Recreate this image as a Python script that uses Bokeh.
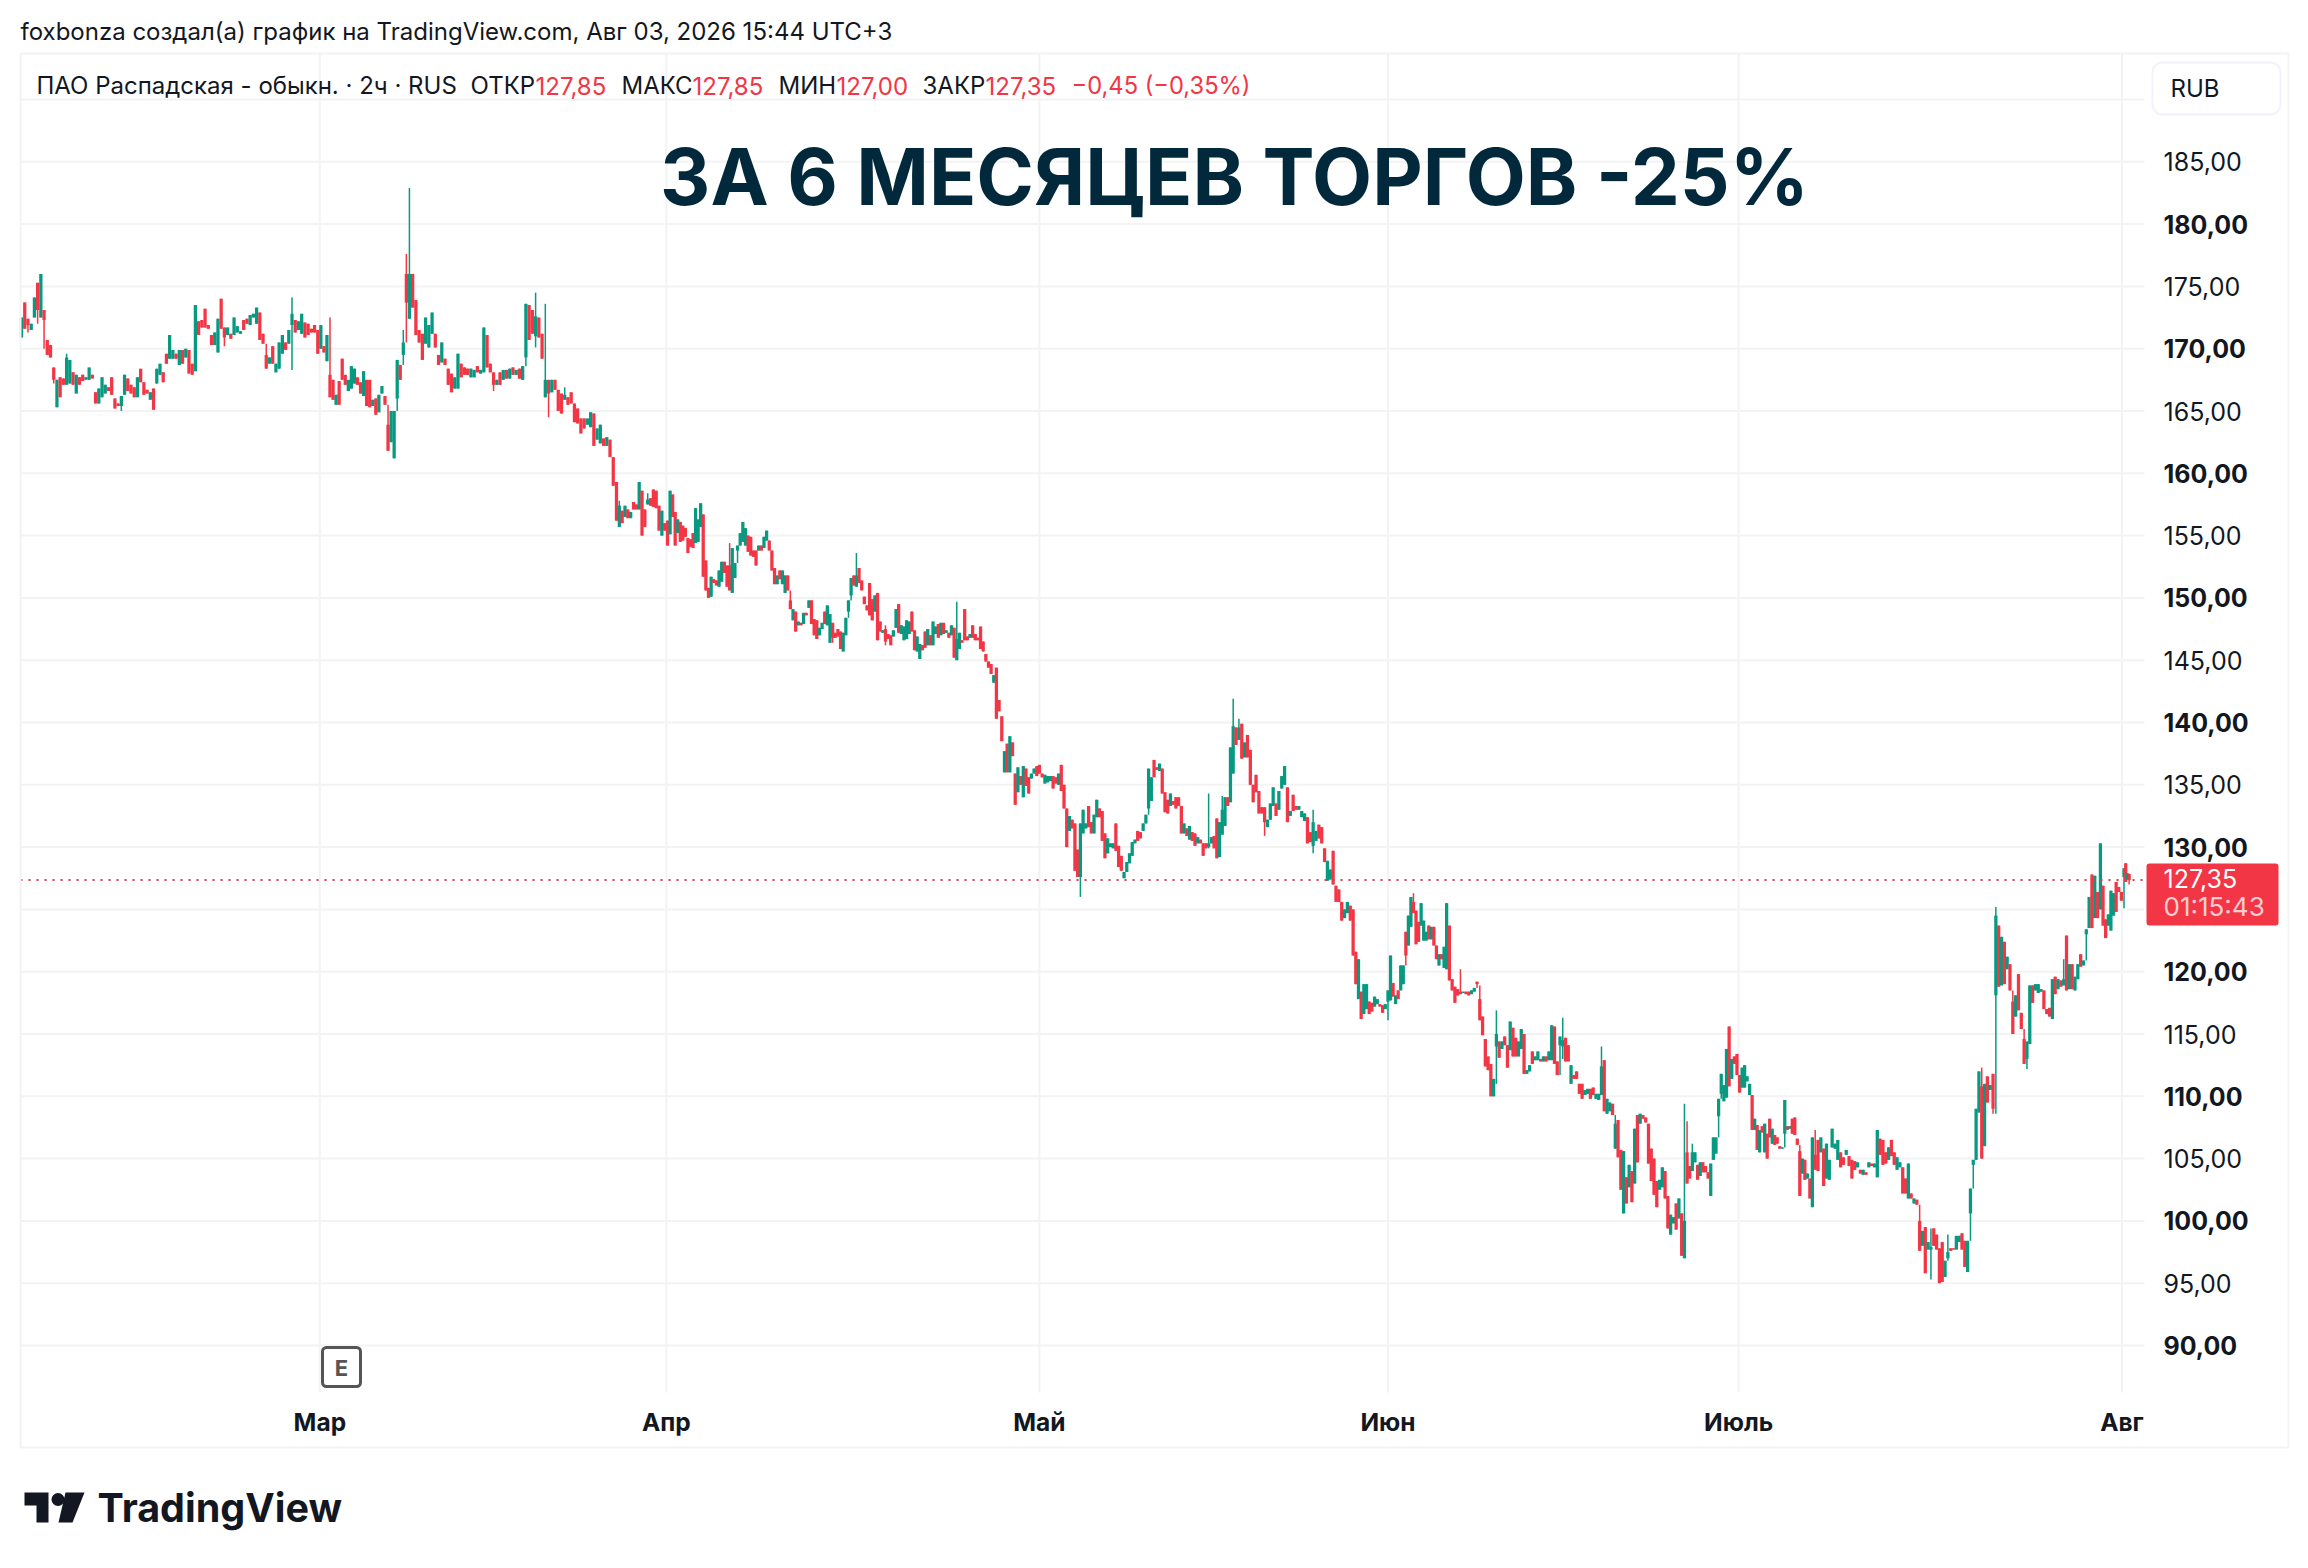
from bokeh.plotting import figure
from bokeh.embed import file_html
from bokeh.resources import INLINE
from bokeh.models import (ColumnDataSource, LinearAxis, FixedTicker, Label,
                          BoxAnnotation, PolyAnnotation)
import math
import numpy as np

# Candles: (open, close) or (open, close, low, high)
feb_bars = [(170.9,172.5),(173.7,171.6),(172.4,171.9,171.3,172.4),(171.5,172.0),(172.5,174.1),(175.3,173.1,172.0,175.3),
(172.5,176.0),(173.1,172.3,170.0,173.1),(170.7,169.5),(170.3,169.3),(168.5,167.5,167.2,168.5),(165.3,167.5),(167.7,166.1),
(167.6,167.1),(167.1,169.3,167.1,169.6),(167.2,169.1),(168.1,167.1),(166.4,167.9),(167.7,167.1),(167.9,167.4),(167.5,167.7),
(167.5,168.5),(167.9,167.6),(166.5,165.6),(165.6,166.8),(166.1,167.7),(166.4,167.1),(166.9,166.6),(167.7,166.3),(166.0,165.2),
(165.6,165.4),(165.4,166.2,165.0,166.2),(166.3,167.9),(167.6,166.6),(167.1,166.4),(166.9,166.1),(166.1,167.7),(168.4,167.3),
(167.3,166.3),(166.7,166.4),(165.9,166.5),(166.8,165.1),(167.2,168.4),(167.9,168.8),(168.1,167.3),(169.6,168.8),(169.2,171.1),
(169.2,169.9),(169.6,169.2),(168.7,169.9),(169.9,168.8),(169.3,170.0),(169.9,168.0),(168.8,167.9),(168.2,173.5),(172.2,171.1),
(172.3,171.7),(173.2,171.7),(171.9,171.6),(171.1,170.3),(170.3,171.3),(169.7,172.4),(174.0,171.6),(171.7,170.9,170.2,171.7),
(171.1,171.7),(171.2,170.8),(171.1,172.5),(171.3,171.8),(171.2,171.4),(172.3,171.5),(172.4,172.0),(171.9,172.7),(172.5,172.8),
(172.0,173.3),(172.9,170.7),(171.2,170.4),(169.5,168.4,168.4,170.4),(168.8,169.3),(170.2,168.8),(168.1,168.8),(168.4,170.5),(169.6,171.1),
(170.5,169.9),(170.4,171.5),(171.9,172.8,168.3,174.1),(172.3,171.3),(171.5,172.2),(171.2,172.8),(172.1,170.9),(172.0,171.1),
(171.6,171.3),(171.9,171.3)]

mar_bars = [(171.5,169.6),(170.0,171.9),(170.2,169.7),(169.0,171.1),(167.9,166.1,166.1,172.5),(167.5,165.9),(165.5,166.3),
(167.4,165.5),(169.2,167.5),(167.9,167.1),(166.6,167.5),(166.8,168.6),(167.2,168.4),(167.7,167.1),(167.3,166.4),(166.2,168.2),
(167.5,165.4),(167.5,165.3),(165.4,165.9),(166.0,164.7),(164.9,166.3),(166.4,167.0),(166.2,165.5),(163.9,161.8,161.8,165.5),(162.5,165.0),
(161.2,165.0),(166.0,169.1,165.0,169.1),(168.7,167.5),(169.5,170.5,168.7,171.5),(176.0,173.7,170.5,177.6),(172.4,176.0,172.4,182.9),
(176.0,173.3),(173.9,171.1),(171.5,170.5),(171.2,169.1),(170.4,172.5),(170.1,171.9),(171.2,172.9),(171.2,170.1),(169.5,168.7),
(168.9,170.5),(169.2,168.7),(168.4,167.1),(168.0,166.5),(166.8,167.7),(166.8,169.6),(168.8,167.7),(168.5,167.9),(168.4,167.9),
(167.7,168.4),(167.7,168.3),(168.6,168.1),(168.0,168.3),(168.1,171.7),(171.1,168.5),(168.8,168.1),(168.1,167.1,166.6,168.1),
(167.1,167.5),(168.1,167.1),(167.5,168.3),(168.3,167.6),(167.6,168.4),(168.5,167.9),(167.9,168.3),(168.4,167.6),(167.5,168.6),
(169.3,173.6,168.6,173.6),(173.5,170.7),(173.1,171.2),(171.0,172.6,170.1,174.5),(172.5,170.9),(171.2,169.2),(166.1,167.5,166.1,173.6),
(167.5,166.4,164.5,167.5),(166.5,167.5),(167.5,166.7),(166.7,165.0),(166.4,164.8),(165.9,166.3,165.9,166.9),(166.1,165.5),
(166.5,165.6),(165.6,164.1),(165.2,164.0),(164.4,163.2),(164.4,163.6),(163.9,164.4),(163.7,164.9),(164.8,162.2),(162.7,163.6),
(162.4,163.9),(162.8,162.2),(162.2,162.9),(162.7,161.3),(161.3,159.0),(159.3,156.2),(155.7,157.4,155.7,157.8),(157.0,156.0),
(156.5,157.4),(157.1,156.4),(156.4,156.9),(157.7,157.1),(157.5,157.1),(157.1,159.3),(158.6,155.0),(157.1,155.7),
(157.5,157.9,157.5,158.4),(158.0,157.4),(158.7,157.3),(158.6,157.2),(157.4,155.4),(155.0,157.0),(156.0,155.4)]

apr_bars = [(156.2,154.2),(155.1,158.6),(158.3,156.5),(156.9,154.2),(155.2,156.3),(156.1,154.5),(155.8,154.6),(155.6,154.9),
(154.8,153.6),(154.7,154.1),(155.2,154.0),(154.4,157.2),(154.5,156.3),(155.7,157.6),(156.7,151.7),(153.0,150.6),(150.8,150.0),
(150.1,151.7),(151.5,151.2),(151.4,151.0),(150.9,152.2),(151.3,152.9),(152.9,152.0),(152.6,150.9),(152.6,150.6,150.6,154.4),
(150.4,154.0),(151.6,152.8),(153.8,154.2,152.8,154.2),(154.2,155.2),(154.5,156.1),(154.2,155.6),(155.0,153.7),(154.9,153.4),(153.8,153.3),
(153.8,152.6),(153.8,154.2),(154.2,153.8),(154.0,154.9),(154.6,155.4),(154.6,153.8),(153.8,152.2),(152.4,151.1),(151.1,151.8),
(152.2,151.5),(151.1,152.2),(150.4,151.8),(151.8,150.6),(149.8,149.1,149.1,150.6),(148.2,149.1),(148.9,147.3),(147.8,148.1),(148.0,147.8),
(147.9,148.8),(148.8,148.6),(149.2,149.8),(149.8,147.9),(148.3,147.0),(148.2,146.7),(147.0,147.6),(147.5,148.0),(148.9,147.9),
(147.8,149.4),(146.4,148.7),(148.0,146.8,146.4,148.0),(147.2,146.8),(147.5,146.9),(147.3,145.9),(145.7,147.2),(147.0,148.4),
(148.9,149.8,148.4,149.8),(150.2,151.6,149.8,151.6),(151.8,151.0),(150.9,151.8,150.9,153.6),(152.4,151.2),(151.4,150.6),(150.1,149.5),(149.4,149.0),
(151.2,148.6),(149.9,148.2),(148.9,150.2),(150.4,146.6),(148.1,147.3),(147.2,147.4),(147.5,146.5,146.2,147.8),(147.1,146.7),
(147.0,146.2),(146.9,147.4),(147.6,149.1),(149.5,147.2),(147.1,147.8),(146.6,147.7),(146.7,148.2),(147.1,148.1),(148.9,147.3),
(147.4,145.8),(145.7,146.9),(145.1,146.3),(146.2,145.8),(147.3,146.0),(146.2,147.5),(147.0,146.2),(146.2,148.1),(147.1,147.7),
(147.9,146.8),(147.0,148.0),(148.0,147.1),(147.2,147.4),(147.2,146.8),(147.0,147.8),(147.6,145.2),(145.0,146.7,145.0,149.7),
(145.9,147.2),(146.6,146.4),(149.1,146.6),(146.9,146.6),(146.8,147.1),(147.8,146.8),(147.1,146.6),(146.8,146.6),(147.7,145.9),
(146.5,145.7),(145.5,144.9),(144.9,144.4),(144.7,143.9),(143.2,143.8),(144.4,140.3),(141.8,140.9),(140.5,138.5),(136.0,137.7),
(138.3,136.0),(136.0,138.9),(138.4,137.3),(135.9,133.4),(134.4,136.4),(135.7,135.0),(134.0,136.5),(136.3,134.9),(135.6,134.3),
(135.5,135.9),(135.9,136.3),(136.5,135.7)]

may_bars = [(136.6,135.9),(135.9,135.6),(135.1,135.8),(135.2,135.7),(135.3,135.7),(135.7,134.7),(135.6,135.1),(135.0,135.9),
(136.6,134.5),(135.0,133.1),(133.1,130.0),(131.3,132.5),(132.2,131.5),(131.9,128.1),(129.8,127.6),(127.6,131.9,126.0,131.9),
(131.1,133.0),(131.5,131.9),(133.3,131.6),(132.0,131.1),(131.1,132.6),(132.4,133.8),(133.1,132.4),(132.9,130.5),(131.1,129.1),
(129.5,130.7),(130.0,130.3),(129.9,130.3),(131.9,129.7),(130.1,128.4),(129.3,128.1),(127.5,128.0),(128.0,128.8),(128.7,129.5),
(129.3,130.4),(130.3,130.6),(131.3,130.5),(131.2,130.7),(131.3,131.9),(131.9,132.6),(133.1,136.3,132.6,136.3),(133.7,135.6),(137.0,135.6),
(136.4,136.2),(136.1,136.7),(136.3,134.3),(134.4,132.8),(133.8,132.7),(133.3,134.3),(133.7,133.4),(134.0,133.1),(134.0,133.3),
(133.3,131.1),(131.1,131.9),(131.5,130.9),(130.6,131.7),(131.2,130.5),(131.1,130.1),(130.3,130.8),(130.6,130.3),(130.3,129.3),
(130.3,129.9),(130.0,130.3,129.9,134.3),(130.3,130.8),(130.9,129.9),(132.3,129.1),(129.2,132.0),(131.0,133.0,131.0,134.1),
(131.7,134.0),(134.0,133.3),(133.6,138.0),(135.9,139.7,135.9,141.9),(139.6,138.2),(138.6,139.6,138.6,140.3),(139.9,137.1),
(137.2,138.4),(139.0,137.2),(137.8,135.0),(135.0,133.6),(135.8,134.4),(134.5,132.7),(133.2,132.7),(133.2,132.0,130.9,133.2),
(131.6,132.2),(132.2,133.5),(133.3,134.8),(133.5,132.5),(133.0,134.5),(134.7,135.7),(135.0,136.5),(134.8,132.0),(132.5,132.9),
(134.2,132.9),(133.3,133.0),(133.0,133.3),(132.4,132.9),(132.1,132.7),(132.4,130.3),(131.2,130.4),(130.1,132.0,129.5,133.0),
(130.5,131.3),(131.8,130.7),(131.6,130.3),(129.9,128.8),(127.3,128.9),(127.4,128.2),(129.7,127.0),(126.9,125.6),(126.6,125.6),
(125.6,124.1),(124.3,125.0),(124.7,125.6),(125.3,124.1),(125.0,121.3),(121.6,119.0),(117.8,121.0),(118.4,116.2),(116.6,119.0),
(117.0,119.0),(117.6,116.6),(117.5,116.8),(117.2,118.0),(117.4,117.8),(117.4,117.2),(117.3,116.7),(117.0,117.4)]

jun_bars = [(117.6,118.5,116.1,118.5),(117.7,121.3),(119.1,118.0),(117.4,118.1),(118.5,117.8),(118.5,120.5),(119.0,120.5),
(123.2,121.3,120.5,123.2),(122.1,124.5),(123.6,126.0),(125.6,124.7,124.7,126.3),(124.9,122.2),(124.0,122.4),(123.7,125.5),(122.5,124.1),
(122.5,123.2),(123.7,122.6),(122.6,123.6),(123.6,122.1),(122.1,121.0),(120.5,121.4),(121.4,121.0),(120.3,122.0),(120.2,125.5),
(123.7,119.3),(119.4,118.5),(118.8,117.5),(118.6,118.1),(118.4,118.2,118.2,120.2),(118.3,118.4),(118.4,118.2),(118.4,118.1),
(118.2,118.5),(118.4,118.7),(119.2,119.0,118.7,119.2),(117.8,116.1,116.1,118.9),(116.4,114.9),(114.6,112.4),(113.2,112.1),(112.6,110.0),(110.0,111.4),
(114.0,115.0,111.0,116.9),(114.4,113.1),(113.8,114.4),(114.8,114.1),(114.1,112.3),(113.7,116.0),(115.5,113.2),(114.7,113.2),
(113.2,114.4),(113.8,115.4),(115.0,111.8),(111.8,112.1),(112.0,112.5),(113.6,112.6),(112.9,113.2),(112.9,113.6),(113.0,112.8),
(112.8,113.2),(113.2,112.8),(112.9,113.6),(112.9,115.7),(115.6,112.6),(112.8,111.7),(114.1,114.8,111.7,114.8),(114.0,114.5,113.0,116.3),
(114.7,112.8),(114.1,112.8),(111.0,112.5),(111.7,111.4),(112.0,111.4),(111.0,110.2),(111.0,109.8),(110.1,110.5),(110.2,110.6),
(110.6,109.8),(110.7,110.1),(109.8,110.2),(109.7,110.2),(110.1,112.4,110.1,114.0),(112.9,108.8),(108.6,109.8),(108.8,109.5),
(109.4,108.5),(105.8,107.8,105.8,108.5),(108.1,105.1),(105.7,102.5),(100.6,105.6),(103.5,101.4),(102.7,104.5),(104.0,101.5),(103.0,107.4),
(108.5,104.7),(107.8,108.6),(108.5,108.2),(108.3,107.9),(107.8,104.6),(105.8,103.2),(105.0,102.1),(103.2,101.1),(102.5,103.3),
(102.7,104.3),(104.0,101.8),(102.0,99.4),(98.9,100.5),(99.8,100.3),(101.4,99.3),(100.2,101.8),(100.6,97.2),(97.0,100.0,97.0,109.4),
(105.5,103.0,103.0,108.0),(104.4,103.4),(104.0,105.5,104.0,106.2),(104.7,105.5),(104.5,103.3),(103.6,104.7),(104.7,103.9),(104.4,103.9),
(103.9,103.4),(102.0,104.6),(104.9,106.7),(105.4,106.7),(108.4,109.8,106.7,109.8),(110.2,111.8,109.8,111.8),(109.6,110.9),(109.9,113.8),(115.6,110.8),
(111.4,113.0),(113.2,112.6),(113.4,111.7)]

jul_bars = [(111.7,110.3),(110.7,112.3),(110.7,112.5),(111.2,111.6),(110.1,111.0),(110.1,107.3),(107.3,108.2),(107.7,105.7),
(105.5,107.3),(107.6,107.1),(105.5,107.8),(107.0,105.0),(108.2,106.7),(106.2,107.4),(106.9,106.1),(106.7,106.2),(106.0,105.8),
(105.8,105.9),(107.0,109.7,105.9,109.7),(107.6,107.3),(107.4,107.6),(108.2,107.0),(108.3,106.9),(106.6,106.1),(105.6,102.0,102.0,106.1),(103.8,105.0),
(104.9,103.3),(103.4,103.8),(103.4,101.8),(101.1,106.7),(105.3,104.1,104.1,107.3),(106.5,104.0),(105.5,106.7),(105.8,102.8),
(103.4,106.2),(103.3,104.9),(105.9,107.4),(105.8,106.2),(104.9,106.5),(105.5,104.3),(105.1,104.5),(105.3,105.7),(105.2,104.4),
(104.9,103.4),(104.8,104.1),(104.3,104.7),(104.1,103.8),(103.7,104.1),(103.9,103.7),(104.3,104.7),(104.6,104.4),(104.3,104.6),
(103.5,107.3),(106.6,105.3),(106.5,104.5),(105.5,104.6),(104.9,105.9),(106.5,105.2),(105.5,104.5),(104.1,105.1),(104.3,104.7),
(104.3,102.2),(103.4,102.2),(101.8,104.6),(102.2,101.8),(101.4,101.8),(101.7,101.3),(100.0,97.6,97.6,101.3),(98.0,99.2),(99.5,95.8),
(97.7,98.3),(97.7,97.9,95.3,99.4),(99.4,98.0),(98.9,97.7),(97.8,95.0),(98.3,95.1),(95.5,96.8),(97.0,97.5,96.8,98.9),(97.8,97.6),
(97.8,97.7),(97.7,98.8),(98.3,98.8),(99.0,97.7),(98.4,96.3),(95.9,98.4),(100.6,102.6,98.4,102.6),(104.5,104.9,102.6,104.9),(104.9,109.0),(108.7,112.0),
(110.8,105.0,105.0,112.3),(106.0,111.0),(111.6,109.5),(110.5,110.9),(111.8,109.0,108.6,111.8),(118.1,124.5,108.6,125.2),
(123.7,118.8),(118.9,122.8),(122.4,119.0),(120.2,121.2),(120.6,118.5),(117.6,115.0,115.0,118.5),(116.4,118.1),(119.8,116.9),(116.7,115.4),
(114.6,112.6,112.6,115.4),(113.0,114.4,112.2,114.4),(114.2,118.9),(118.9,117.5),(118.5,119.0),(118.3,119.0),(118.4,118.6),(118.5,117.0),
(117.0,116.6),(117.1,116.4),(116.2,119.4),(119.6,118.2),(118.6,119.4),(119.3,118.8),(118.9,119.4,118.9,121.0),(122.9,118.5),
(118.6,120.6),(120.6,118.6),(118.5,119.6),(119.4,120.6),(121.4,120.4),(120.5,120.9),(123.0,123.4,120.9,123.4),(123.5,126.0),(127.8,123.5),
(124.3,127.7),(126.4,124.3),(125.0,130.3),(126.9,123.7),(124.2,122.7),(123.7,124.6),(123.3,126.5),(124.5,126.3),(127.2,124.8),
(126.8,126.4),(126.4,125.7)]

aug_bars = [(127.6,128.3,125.1,128.3),(128.7,127.2),(127.4,127.9),(127.85,127.35,127.0,127.85)]

month_names = ["Мар", "Апр", "Май", "Июн", "Июль", "Авг"]
month_ticks = [146, 315, 497, 667, 838, 1025]
regular_prices = [95, 105, 115, 135, 145, 155, 165, 175, 185]
bold_prices = [90, 100, 110, 120, 130, 140, 150, 160, 170, 180]
grid_prices = list(range(90, 195, 5))
last_price = 127.35
GREEN, RED = "#089981", "#F23645"
FONT = "Inter"

W, H = 2300, 1560
PX = (2144 - 20) / 1036     # pixels per 2h bar
PY = 12.46                  # pixels per rouble

all_bars = feb_bars + mar_bars + apr_bars + may_bars + jun_bars + jul_bars + aug_bars
# time position (in 2h bars) of landmark candles, the rest are spaced evenly between them
landmarks = [(feb_bars[0], 0.5), (mar_bars[0], 145), ((172.4,176.0,172.4,182.9), 189.7), ((159.3,156.2), 290.7),
             (apr_bars[0], 315.6), ((156.7,151.7), 333), ((144.4,140.3), 476), (may_bars[0], 497),
             ((135.9,139.7,135.9,141.9), 591.5), ((125.0,121.3), 650), (jun_bars[0], 667), ((120.2,125.5), 695.6),
             ((97.0,100.0,97.0,109.4), 811.6), ((115.6,110.8), 833.4), (jul_bars[0], 838.5), ((101.1,106.7), 874),
             ((118.1,124.5,108.6,125.2), 963.5), ((125.0,130.3), 1014.5), (aug_bars[0], 1026), (aug_bars[-1], 1028.5)]
li = [all_bars.index(b) for b, _ in landmarks]
xs = np.interp(range(len(all_bars)), li, [u for _, u in landmarks]).tolist()

opens, closes, lows, highs, colors = [], [], [], [], []
for r in all_bars:
    o, c = r[0], r[1]
    l, h = (r[2], r[3]) if len(r) == 4 else (min(o, c), max(o, c))
    opens.append(o); closes.append(c); lows.append(l); highs.append(h)
    colors.append(GREEN if c >= o else RED)
src = ColumnDataSource(dict(x=xs, o=opens, c=closes, l=lows, h=highs, color=colors))

x_low, x_high = -20 / PX, (W - 20) / PX
y_high, y_low = 190 + 99 / PY, 190 - (H - 99) / PY
plot_bottom, plot_top, plot_right = 86.23, 193.69, 1036

p = figure(width=W, height=H, output_backend="svg", toolbar_location=None,
           x_range=(x_low, x_high), y_range=(y_low, y_high), x_axis_location=None, y_axis_location=None,
           min_border=0, background_fill_color="white", border_fill_color="white", outline_line_color=None)
p.center = []

def styled(ax, size, style):
    ax.axis_line_color = None
    ax.major_tick_line_color = None
    ax.minor_tick_line_color = None
    ax.major_tick_in = 0
    ax.major_tick_out = 0
    ax.major_label_text_font = FONT
    ax.major_label_text_font_size = size
    ax.major_label_text_font_style = style
    ax.major_label_text_color = "#131722"
    return ax

yfmt = lambda v: {t: f"{t},00" for t in v}
a1 = styled(LinearAxis(ticker=FixedTicker(ticks=regular_prices), major_label_overrides=yfmt(regular_prices),
                       major_label_standoff=19, fixed_location=plot_right), "25px", "normal")
a2 = styled(LinearAxis(ticker=FixedTicker(ticks=bold_prices), major_label_overrides=yfmt(bold_prices),
                       major_label_standoff=19, fixed_location=plot_right), "25px", "bold")
p.add_layout(a1, "right")
p.add_layout(a2, "right")
xa = styled(LinearAxis(ticker=FixedTicker(ticks=month_ticks),
                       major_label_overrides=dict(zip(month_ticks, month_names)),
                       major_label_standoff=15, fixed_location=plot_bottom), "24.5px", "bold")
p.add_layout(xa, "below")

# grid lines stop at the price axis and above the time axis
GRID = "#f3f3f3"
p.segment(x0=month_ticks, x1=month_ticks, y0=[plot_bottom] * len(month_ticks), y1=[plot_top] * len(month_ticks),
          line_color=GRID, line_width=2, level="underlay")
p.segment(x0=[0] * len(grid_prices), x1=[plot_right] * len(grid_prices), y0=grid_prices, y1=grid_prices,
          line_color=GRID, line_width=2, level="underlay")

# candles
p.segment("x", "l", "x", "h", source=src, line_color="color", line_width=1.5)
p.vbar(x="x", bottom="o", top="c", width=1.6, source=src, fill_color="color", line_color=None)

p.segment(x0=[0], y0=[last_price], x1=[plot_right], y1=[last_price], line_color=RED, line_width=2, line_dash="2 6")

sx = lambda v: v
sy = lambda v: H - v

def box(x0, y0, x1, y1, **kw):
    p.add_layout(BoxAnnotation(left=sx(x0), right=sx(x1), top=sy(y0), bottom=sy(y1),
                               left_units="screen", right_units="screen", top_units="screen",
                               bottom_units="screen", line_alpha=1, **kw))

def txt(x, y, s, size, style="normal", color="#131722", align="left", alpha=1.0):
    p.add_layout(Label(x=sx(x), y=sy(y), x_units="screen", y_units="screen", text=s, text_font=FONT,
                       text_font_size=size, text_font_style=style, text_color=color, text_align=align,
                       text_baseline="middle", text_alpha=alpha))

box(20, 53, 2288, 1447, fill_alpha=0, line_color=GRID, line_width=2)
box(2152, 62, 2280, 114, fill_alpha=0, line_color="#f0f3fa", line_width=2, border_radius=10)
box(2146, 863, 2278, 925, fill_color=RED, fill_alpha=1, line_color=None, border_radius=3)
box(322, 1347, 360, 1386, fill_color="white", fill_alpha=1, line_color="#555555", line_width=3, border_radius=4)

txt(20, 31, "foxbonza создал(а) график на TradingView.com, Авг 03, 2026 15:44 UTC+3", "24px")
txt(36, 85, "ПАО Распадская - обыкн. · 2ч · RUS", "24px")
for lab, x_l, val, x_v in [("ОТКР", 470, "127,85", 535), ("МАКС", 621, "127,85", 692),
                           ("МИН", 778, "127,00", 836), ("ЗАКР", 922, "127,35", 985)]:
    txt(x_l, 85, lab, "24px")
    txt(x_v, 85, val, "24px", color=RED)
txt(1071, 85, "−0,45 (−0,35%)", "23.7px", color=RED)
txt(1234, 176, "ЗА 6 МЕСЯЦЕВ ТОРГОВ -25%", "78px", "bold", "#02283c", "center")
txt(2170, 88, "RUB", "24px")
txt(2163, 878, "127,35", "25px", color="white")
txt(2163, 906, "01:15:43", "26px", color="white", alpha=0.75)
txt(341, 1367, "E", "22px", "bold", "#555555", "center")
txt(97, 1507, "TradingView", "39.5px", "bold", "#131722")

def poly(pts):
    p.add_layout(PolyAnnotation(xs=[sx(a) for a, b in pts], ys=[sy(b) for a, b in pts], xs_units="screen",
                                ys_units="screen", fill_color="#131722", fill_alpha=1, line_color=None))

poly([(24, 1492), (48, 1492), (48, 1522), (36, 1522), (36, 1505), (24, 1505)])
poly([(65, 1492), (84, 1492), (72, 1522), (58, 1522)])
poly([(57.5 + 6.5 * math.cos(t / 16 * 2 * math.pi), 1499 + 6.5 * math.sin(t / 16 * 2 * math.pi)) for t in range(16)])

open("out.html", "w").write(file_html(p, INLINE))
